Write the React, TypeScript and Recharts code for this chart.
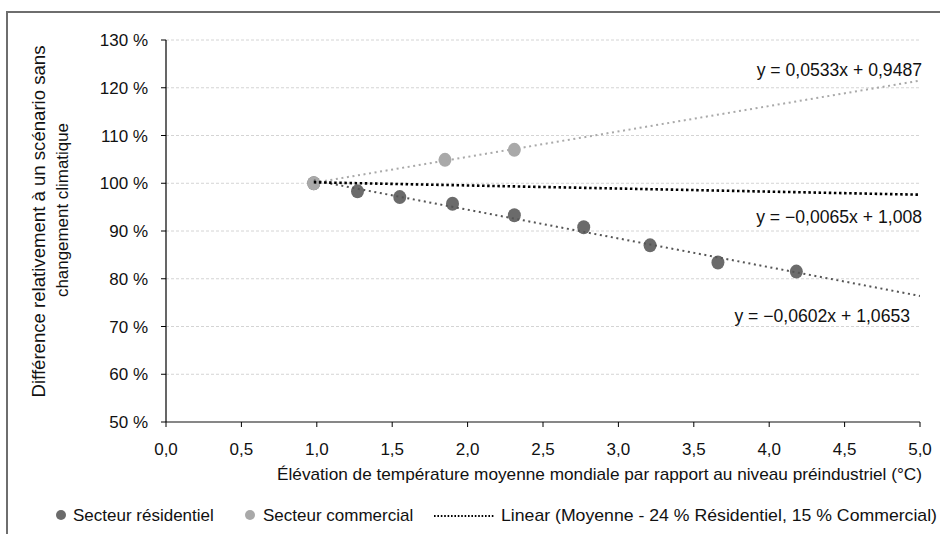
import React from 'react';
import { ComposedChart, Scatter, XAxis, YAxis, CartesianGrid } from 'recharts';

// ---- data ----
const residentialX = [0.98, 1.27, 1.55, 1.9, 2.31, 2.77, 3.21, 3.66, 4.18];
const residentialY = [100, 98.3, 97.1, 95.7, 93.3, 90.8, 87.0, 83.4, 81.5];
const commercialX = [0.98, 1.85, 2.31];
const commercialY = [100, 104.9, 107.0];
const trendResidentialX = [0.98, 5.0];
const trendResidentialY = [100.6, 76.4];
const trendCommercialX = [0.98, 5.0];
const trendCommercialY = [100.1, 121.5];
const trendAverageX = [0.98, 5.0];
const trendAverageY = [100.2, 97.6];
const xTicks = [0, 0.5, 1, 1.5, 2, 2.5, 3, 3.5, 4, 4.5, 5];
const yTicks = [50, 60, 70, 80, 90, 100, 110, 120, 130];
const equationLabels = ['y = 0,0533x + 0,9487', 'y = −0,0065x + 1,008', 'y = −0,0602x + 1,0653'];
const legendLabels = ['Secteur résidentiel', 'Secteur commercial', 'Linear (Moyenne - 24 % Résidentiel, 15 % Commercial)'];
const xTitle = 'Élévation de température moyenne mondiale par rapport au niveau préindustriel (°C)';
const yTitleLines = ['Différence relativement à un scénario sans', 'changement climatique'];

const zip = (xs: number[], ys: number[]) => xs.map((x, i) => ({ x, y: ys[i] }));
const residential = zip(residentialX, residentialY);
const commercial = zip(commercialX, commercialY);
const trendRes = zip(trendResidentialX, trendResidentialY);
const trendCom = zip(trendCommercialX, trendCommercialY);
const trendAvg = zip(trendAverageX, trendAverageY);

const FONT = '"Liberation Sans", Arial, sans-serif';
const DARK = '#6b6b6b';
const LIGHT = '#a9a9a9';

const marker = (color: string) => (props: any) => (
  <ellipse cx={props.cx} cy={props.cy} rx={6.5} ry={7} fill={color} />
);
const noShape = () => <g />;

export default function App() {
  return (
    <div style={{ position: 'fixed', left: 0, top: 0, width: 940, height: 534, overflow: 'hidden', background: '#fff' }}>
      <div style={{ position: 'absolute', left: 6, top: 11, width: 980, height: 600, border: '2px solid #6e6e6e' }} />
      <div style={{ position: 'absolute', left: 0, top: 0 }}>
        <ComposedChart width={940} height={534} margin={{ top: 40, right: 20, bottom: 82, left: 106 }}>
          <CartesianGrid vertical={false} stroke="#d4d4d4" strokeDasharray="3 2" />
          <XAxis
            type="number"
            dataKey="x"
            domain={[0, 5]}
            ticks={xTicks}
            interval={0}
            height={30}
            allowDataOverflow
            tickFormatter={(v: number) => v.toFixed(1).replace('.', ',')}
            axisLine={{ stroke: '#878787', strokeWidth: 2 }}
            tickLine={{ stroke: '#000' }}
            tickSize={5}
            tickMargin={16}
            tick={{ fill: '#111', fontSize: 17, fontFamily: FONT }}
          />
          <YAxis
            type="number"
            dataKey="y"
            domain={[50, 130]}
            ticks={yTicks}
            interval={0}
            width={60}
            allowDataOverflow
            tickFormatter={(v: number) => `${v} %`}
            axisLine={{ stroke: '#000', strokeWidth: 1.2 }}
            tickLine={{ stroke: '#000' }}
            tickSize={5}
            tickMargin={13}
            tick={{ fill: '#111', fontSize: 17, fontFamily: FONT }}
          />
          <Scatter data={residential} fill={DARK} shape={marker(DARK)} isAnimationActive={false} />
          <Scatter data={commercial} fill={LIGHT} shape={marker(LIGHT)} isAnimationActive={false} />
          <Scatter
            data={trendCom}
            shape={noShape}
            line={{ stroke: LIGHT, strokeWidth: 2, strokeDasharray: '2 3.6' }}
            isAnimationActive={false}
          />
          <Scatter
            data={trendRes}
            shape={noShape}
            line={{ stroke: '#555', strokeWidth: 2, strokeDasharray: '2 3.6' }}
            isAnimationActive={false}
          />
          <Scatter
            data={trendAvg}
            shape={noShape}
            line={{ stroke: '#000', strokeWidth: 2.6, strokeDasharray: '2.5 2.6' }}
            isAnimationActive={false}
          />
        </ComposedChart>
      </div>
      <svg width={940} height={534} style={{ position: 'absolute', left: 0, top: 0, pointerEvents: 'none' }}
        fontFamily={FONT} fill="#111">
        <text x={922} y={76} fontSize={17.6} textAnchor="end">{equationLabels[0]}</text>
        <text x={922} y={223} fontSize={17.6} textAnchor="end">{equationLabels[1]}</text>
        <text x={910} y={322} fontSize={17.6} textAnchor="end">{equationLabels[2]}</text>
        <text x={277} y={480} fontSize={17} textLength={645} lengthAdjust="spacingAndGlyphs">{xTitle}</text>
        <text transform="translate(45,221.5) rotate(-90)" fontSize={17.5} textAnchor="middle"
          textLength={352} lengthAdjust="spacingAndGlyphs">{yTitleLines[0]}</text>
        <text transform="translate(68,210) rotate(-90)" fontSize={17.2} textAnchor="middle"
          textLength={174} lengthAdjust="spacingAndGlyphs">{yTitleLines[1]}</text>
        <circle cx={61} cy={515} r={5} fill={DARK} />
        <text x={73} y={521} fontSize={17}>{legendLabels[0]}</text>
        <circle cx={250} cy={515} r={5} fill={LIGHT} />
        <text x={263} y={521} fontSize={17}>{legendLabels[1]}</text>
        <line x1={434} y1={516} x2={494} y2={516} stroke="#000" strokeWidth={2} strokeDasharray="1.6 1.8" />
        <text x={501} y={521} fontSize={17} textLength={436} lengthAdjust="spacingAndGlyphs">{legendLabels[2]}</text>
      </svg>
    </div>
  );
}
